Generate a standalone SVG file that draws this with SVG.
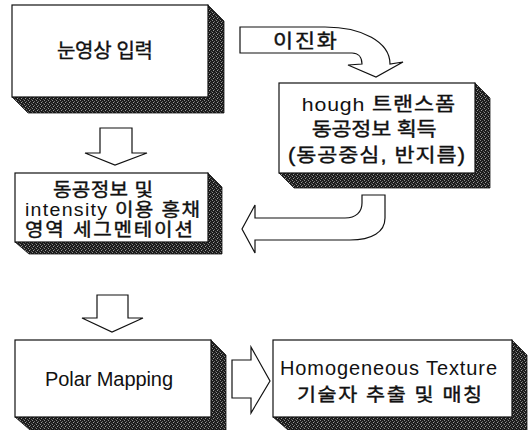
<svg xmlns="http://www.w3.org/2000/svg" width="532" height="430" viewBox="0 0 532 430">
<defs>
<pattern id="dither" width="4" height="4" patternUnits="userSpaceOnUse">
<rect width="4" height="4" fill="#1c1c1c"/>
<rect x="0" y="0" width="1" height="1" fill="#8a8a8a"/>
<rect x="2" y="1" width="1" height="1" fill="#6a6a6a"/>
<rect x="1" y="2" width="1" height="1" fill="#9a9a9a"/>
<rect x="3" y="3" width="1" height="1" fill="#5a5a5a"/>
</pattern>
<style>
.shadow{fill:url(#dither);stroke:#111;stroke-width:0.8}
.face{fill:#fff;stroke:#111;stroke-width:1.2}
.arrow{fill:#fff;stroke:#111;stroke-width:1.2;stroke-linejoin:miter}
text{font-family:"Liberation Sans","Noto Sans CJK KR",sans-serif;fill:#111}
.k{stroke:#111;stroke-width:0.4}
</style>
</defs>
<rect width="532" height="430" fill="#fff"/>

<g id="connectors">
<path class="arrow" d="M240,27 H325 C362,27 390,42 390,64 L403,62 L376,77 L348,65 L362,64 C362,57 358,53 352,53 H240 Z"/>
<text class="k" transform="scale(1.12,1)" x="243.75" y="48" font-size="19.5" textLength="57.1" lengthAdjust="spacing">이진화</text>
<path class="arrow" d="M385,195 V218 C385,232 372,240 350,240 H255 V253 L242,229 L255,205 V218 H345 C356,218 362,212 362,203 V195 Z"/>
<path class="arrow" d="M100,128 H132 V153 H147 L115,165 L85,153 H100 Z"/>
<path class="arrow" d="M97,295 H128 V318 H143 L112,332 L82,318 H97 Z"/>
<path class="arrow" d="M232,360 H251 V347 L270,381 L251,413 V398 H232 Z"/>
</g>

<g id="node1">
<polygon class="shadow" points="208,5 224,21 224,113 28,113 12,97"/>
<rect class="face" x="12" y="5" width="196" height="92"/>
<text class="k" x="57" y="58" font-size="20" textLength="96" lengthAdjust="spacing">눈영상 입력</text>
</g>

<g id="node2">
<polygon class="shadow" points="475,83 490,98 490,188 294,188 279,173"/>
<rect class="face" x="279" y="83" width="196" height="90"/>
<g transform="scale(1.12,1)" font-size="19.5">
<text x="269.4" y="111" textLength="136.9" lengthAdjust="spacing"><tspan font-size="19">hough </tspan><tspan class="k">트랜스폼</tspan></text>
<text class="k" x="278.3" y="136.5" textLength="111.6" lengthAdjust="spacing">동공정보 획득</text>
<text class="k" x="257.1" y="162" textLength="158" lengthAdjust="spacing">(동공중심, 반지름)</text>
</g>
</g>

<g id="node3">
<polygon class="shadow" points="208,173 222,187 222,254 29,254 15,242"/>
<rect class="face" x="15" y="173" width="193" height="69"/>
<g transform="scale(1.12,1)" font-size="18">
<text class="k" x="47.3" y="196.5" textLength="89.3" lengthAdjust="spacing">동공정보 및</text>
<text x="22.3" y="216.5" textLength="156.25" lengthAdjust="spacing"><tspan font-size="17.5">intensity </tspan><tspan class="k">이용 홍채</tspan></text>
<text class="k" x="22.3" y="236.5" textLength="150" lengthAdjust="spacing">영역 세그멘테이션</text>
</g>
</g>

<g id="node4">
<polygon class="shadow" points="211,340 226,355 226,430 30,430 15,417"/>
<rect class="face" x="15" y="340" width="196" height="77"/>
<text x="45" y="386" font-size="20" textLength="128" lengthAdjust="spacing">Polar Mapping</text>
</g>

<g id="node5">
<polygon class="shadow" points="512,340 527,355 527,430 288,430 273,417"/>
<rect class="face" x="273" y="340" width="239" height="77"/>
<text x="280" y="375" font-size="20" textLength="217" lengthAdjust="spacing">Homogeneous Texture</text>
<text class="k" transform="scale(1.12,1)" x="265.2" y="401.5" font-size="18.5" textLength="165.2" lengthAdjust="spacing">기술자 추출 및 매칭</text>
</g>
</svg>
